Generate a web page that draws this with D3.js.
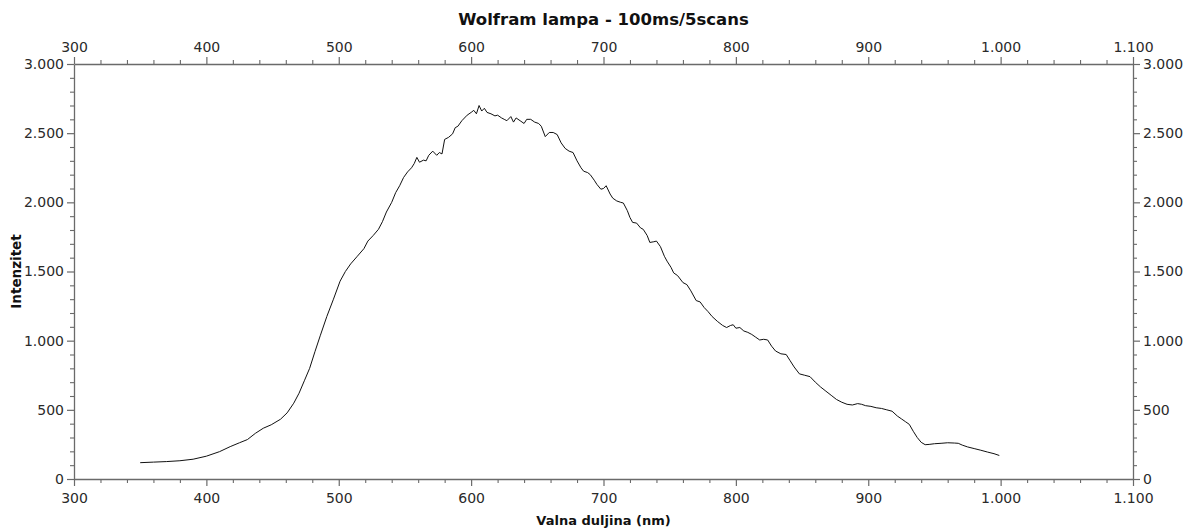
<!DOCTYPE html>
<html><head><meta charset="utf-8">
<script src="https://cdn.jsdelivr.net/npm/d3@7"></script>
<style>
html,body{margin:0;padding:0;background:#fff;}
svg{display:block;font-family:"DejaVu Sans",Verdana,sans-serif;}
</style></head>
<body><svg id="c" width="1190" height="529"></svg>
<script>
const title = "Wolfram lampa - 100ms/5scans";
const xLabel = "Valna duljina (nm)";
const yLabel = "Intenzitet";
const xTicks = [300,400,500,600,700,800,900,1000,1100];
const yTicks = [0,500,1000,1500,2000,2500,3000];
const wavelength = [350,360,370,380,390,400,410,418,425,431,437,443,449,456,461,466,470,474,478,482,486,491,496,501,505,509,514,519,522,526,530,533,536,540,543,546,549,552,555,557,559,561,564,566,568,571,574,576,578,580,583,586,588,590,593,597,600,602,604,606,608,610,612,615,618,620,623,625,627,630,632,634,637,640,642,645,648,651,653,656,659,662,665,668,671,674,677,680,683,685,688,690,693,695,698,700,702,705,707,710,713,715,718,720,722,725,728,730,733,735,738,740,743,746,748,751,753,756,760,763,766,770,773,776,779,782,786,790,793,796,798,800,803,806,809,812,815,818,821,824,827,830,834,838,841,844,848,852,856,860,864,868,872,876,880,884,888,892,895,898,902,906,910,914,918,922,925,928,931,934,937,940,943,946,950,955,960,965,968,971,975,980,985,990,995,999];
const intensity = [118,122,126,132,143,165,198,234,262,285,330,367,392,432,478,548,620,710,800,920,1035,1175,1300,1430,1500,1555,1610,1665,1720,1760,1805,1860,1930,2000,2070,2120,2180,2220,2250,2280,2325,2290,2305,2300,2340,2370,2340,2360,2350,2455,2470,2495,2540,2550,2590,2630,2650,2665,2640,2700,2660,2680,2650,2640,2625,2630,2610,2600,2590,2620,2580,2610,2590,2570,2600,2600,2580,2570,2550,2475,2505,2505,2490,2430,2390,2370,2360,2300,2250,2225,2215,2200,2160,2130,2095,2100,2120,2060,2030,2010,2000,1995,1940,1890,1855,1850,1815,1805,1760,1710,1715,1720,1680,1610,1575,1530,1490,1470,1420,1405,1360,1290,1280,1240,1210,1175,1140,1110,1095,1110,1115,1090,1095,1070,1060,1045,1025,1005,1010,1005,960,925,905,900,855,810,760,750,740,700,665,635,605,575,555,540,535,545,540,530,525,515,510,500,490,455,435,415,395,345,300,265,248,250,255,258,262,260,258,245,232,220,208,195,183,170];

const data = wavelength.map((w,i)=>({x:w,y:intensity[i]}));
const svg = d3.select("#c");
const L=74, R=1133, T=64, B=479;
const x = d3.scaleLinear().domain([300,1100]).range([L,R]);
const y = d3.scaleLinear().domain([0,3000]).range([B,T]);
const fmt = d => d3.format(",")(d).replace(/,/g,".");
const axisCol = "#6a6a6a", textCol = "#2a2a2a";

const xMinor = d3.range(300,1101,20).filter(v=>v%100!==0);
const yMinor = d3.range(0,3001,100).filter(v=>v%500!==0);

function style(g){
  g.select(".domain").attr("stroke",axisCol).attr("stroke-width",1.3);
  g.selectAll(".tick line").attr("stroke",axisCol).attr("stroke-width",1.2);
  g.selectAll(".tick text").attr("fill",textCol).style("font-size","14px").style("font-family","'DejaVu Sans',Verdana,sans-serif");
}
function minor(g){ g.select(".domain").remove(); g.selectAll(".tick line").attr("stroke",axisCol).attr("stroke-width",1.1); g.selectAll("text").remove(); }

// minor ticks
svg.append("g").attr("transform",`translate(0,${B})`).call(d3.axisBottom(x).tickValues(xMinor).tickSize(4)).call(minor);
svg.append("g").attr("transform",`translate(0,${T})`).call(d3.axisTop(x).tickValues(xMinor).tickSize(4)).call(minor);
svg.append("g").attr("transform",`translate(${L},0)`).call(d3.axisLeft(y).tickValues(yMinor).tickSize(4)).call(minor);
svg.append("g").attr("transform",`translate(${R},0)`).call(d3.axisRight(y).tickValues(yMinor).tickSize(4)).call(minor);

// major axes
svg.append("g").attr("transform",`translate(0,${B})`).call(d3.axisBottom(x).tickValues(xTicks).tickFormat(fmt).tickSize(7).tickSizeOuter(0).tickPadding(7)).call(style);
svg.append("g").attr("transform",`translate(0,${T})`).call(d3.axisTop(x).tickValues(xTicks).tickFormat(fmt).tickSize(7).tickSizeOuter(0).tickPadding(5)).call(style);
svg.append("g").attr("transform",`translate(${L},0)`).call(d3.axisLeft(y).tickValues(yTicks).tickFormat(fmt).tickSize(7).tickSizeOuter(0).tickPadding(3)).call(style);
svg.append("g").attr("transform",`translate(${R},0)`).call(d3.axisRight(y).tickValues(yTicks).tickFormat(fmt).tickSize(7).tickSizeOuter(0).tickPadding(3)).call(style);

// curve
svg.append("path").datum(data)
  .attr("fill","none").attr("stroke","#111").attr("stroke-width",1)
  .attr("d", d3.line().x(d=>x(d.x)).y(d=>y(d.y)));

// titles
svg.append("text").attr("x",(L+R)/2).attr("y",25).attr("text-anchor","middle")
  .style("font-weight","bold").style("font-size","16.5px").attr("fill","#111").text(title);
svg.append("text").attr("x",(L+R)/2).attr("y",525).attr("text-anchor","middle")
  .style("font-weight","bold").style("font-size","13px").attr("fill","#111").text(xLabel);
svg.append("text").attr("transform",`translate(21,${(T+B)/2}) rotate(-90)`).attr("text-anchor","middle")
  .style("font-weight","bold").style("font-size","13.5px").attr("fill","#111").text(yLabel);
</script></body></html>
